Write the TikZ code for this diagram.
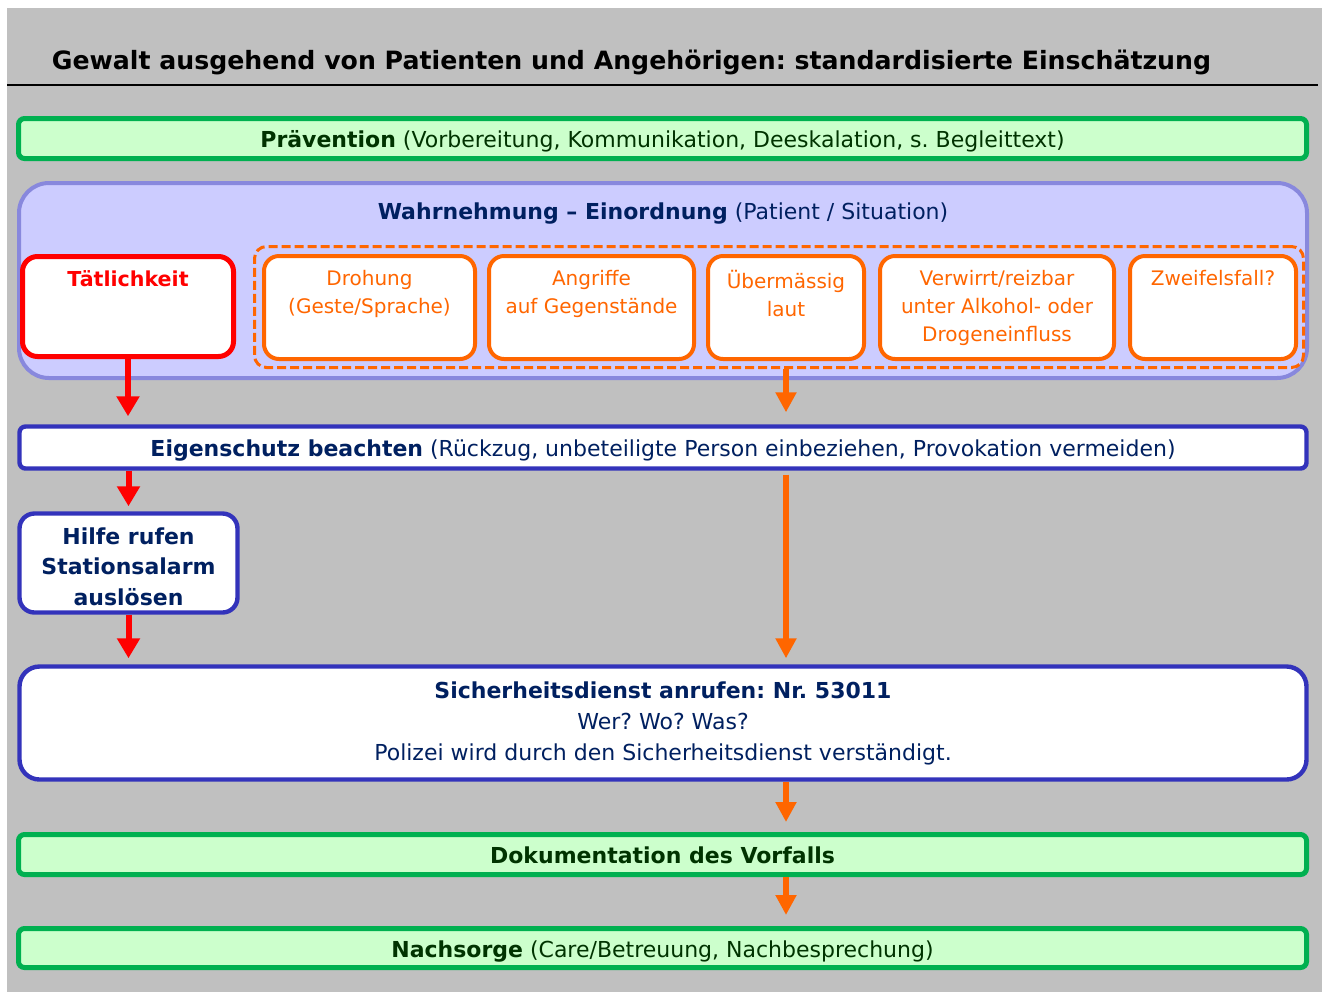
\documentclass[tikz,border=0pt]{standalone}
\usepackage{fontspec}
\setmainfont{DejaVu Sans}
\usepackage{tikz}
\usetikzlibrary{arrows.meta}
\frenchspacing

\definecolor{bggray}{HTML}{C0C0C0}
\definecolor{navy}{HTML}{002060}
\definecolor{darkgreen}{HTML}{003300}
\definecolor{boxgreen}{HTML}{00B050}
\definecolor{lightgreen}{HTML}{CCFFCC}
\definecolor{lilac}{HTML}{CCCCFF}
\definecolor{lilacline}{HTML}{8888DD}
\definecolor{boxblue}{HTML}{3333BB}
\definecolor{alarmorange}{HTML}{FF6600}
\definecolor{alarmred}{HTML}{FF0000}

\newcommand\boxfont{\fontsize{11}{14}\selectfont}
\newcommand\smallboxfont{\fontsize{10}{14}\selectfont}

\tikzset{
  greenbox/.style={draw=boxgreen, line width=2.5pt, fill=lightgreen, rounded corners=3pt,
    minimum width=644pt, minimum height=20pt, inner sep=0pt, text height=9pt, text depth=0pt,
    font=\boxfont, text=darkgreen},
  bluebox/.style={draw=boxblue, line width=2.2pt, fill=white, inner sep=0pt,
    font=\boxfont, text=navy},
  orangebox/.style={draw=alarmorange, line width=2pt, fill=white, rounded corners=7.5pt,
    minimum height=51.5pt, inner sep=0pt},
  orangelabel/.style={anchor=north, yshift=-6pt, inner sep=2pt, align=center,
    font=\smallboxfont, text=alarmorange},
  redlabel/.style={anchor=north, yshift=-6pt, inner sep=2pt,
    font=\fontsize{10.3}{14}\selectfont\bfseries, text=alarmred},
  redarrow/.style={draw=alarmred, line width=3pt, -{Triangle[width=11pt, length=10pt]}},
  orangearrow/.style={draw=alarmorange, line width=3pt, -{Triangle[width=10pt, length=10pt]}},
}

\begin{document}
\begin{tikzpicture}[x=0.5pt, y=-0.5pt]

  \useasboundingbox (0,0) rectangle (1322,992);
  \fill[bggray] (7,8) rectangle (1322,992);

  \node[anchor=base, font=\fontsize{12.6}{15}\selectfont\bfseries] (title) at (631.5,69)
    {Gewalt ausgehend von Patienten und Angehörigen: standardisierte Einschätzung};
  \draw[line width=1pt] (7,85) -- (1318,85);

  \node[greenbox] (praev) at (662.5,138.5)
    {\textbf{Prävention} (Vorbereitung, Kommunikation, Deeskalation, s. Begleittext)};

  % Wahrnehmung
  \node[draw=lilacline, line width=2pt, fill=lilac, rounded corners=15pt,
    minimum width=644pt, minimum height=97.5pt] (wahr) at (663,280.5) {};
  \node[anchor=base, font=\boxfont, text=navy] (wahrtitle) at (663,219)
    {\textbf{Wahrnehmung – Einordnung} (Patient / Situation)};

  \node[draw=alarmorange, line width=1.5pt, dash pattern=on 4.5pt off 2pt, rounded corners=6pt,
    minimum width=524.5pt, minimum height=60.5pt] (group) at (779,307) {};

  \node[draw=alarmred, line width=2.5pt, fill=white, rounded corners=7.5pt,
    minimum width=105.5pt, minimum height=50pt, label={[redlabel]north:Tätlichkeit}] (taet) at (128,306.5) {};

  \foreach \name/\x/\w/\txt in {droh/369.5/105.5/{Drohung\\(Geste/Sprache)},
      angr/591.5/102.5/{Angriffe\\auf Gegenstände},
      ueber/786/78/{Übermässig\\laut},
      verw/997/117/{Verwirrt/reizbar\\unter Alkohol- oder\\Drogeneinfluss},
      zweif/1213/83/{Zweifelsfall?}} {
    \node[orangebox, minimum width=\w pt, label={[orangelabel]north:\txt}] (\name) at (\x,307.5) {};
  }

  % Reaktion
  \node[bluebox, rounded corners=3pt, minimum width=643.5pt, minimum height=21pt,
    text height=9pt, text depth=0pt] (eigen) at (663,447.5)
    {\textbf{Eigenschutz beachten} (Rückzug, unbeteiligte Person einbeziehen, Provokation vermeiden)};

  \node[bluebox, align=center, rounded corners=7.5pt, minimum width=109pt, minimum height=49.5pt,
    font=\fontsize{11}{15.2}\selectfont\bfseries] (hilfe) at (128.5,563)
    {\rule{0pt}{12pt}Hilfe rufen\\Stationsalarm\\auslösen};

  \node[bluebox, align=center, rounded corners=10pt, minimum width=643.5pt, minimum height=56.5pt,
    font=\fontsize{11}{15.5}\selectfont] (sicher) at (663,723)
    {\textbf{Sicherheitsdienst anrufen: Nr. 53011}\\Wer? Wo? Was?\\Polizei wird durch den Sicherheitsdienst verständigt.};

  \node[greenbox] (doku) at (662.5,854.5) {\textbf{Dokumentation des Vorfalls}};
  \node[greenbox, minimum height=19.5pt] (nach) at (662.5,948)
    {\textbf{Nachsorge} (Care/Betreuung, Nachbesprechung)};

  % Pfeile
  \draw[redarrow, shorten >=4pt] (taet.south) -- (taet.south |- eigen.north);
  \draw[redarrow, shorten >=2.5pt] (hilfe.north |- eigen.south) -- (hilfe.north);
  \draw[redarrow, shorten >=3pt] (hilfe.south) -- (hilfe.south |- sicher.north);

  \draw[orangearrow, shorten >=6pt] (ueber.south |- group.south) -- (ueber.south |- eigen.north);
  \draw[orangearrow, shorten <=2pt, shorten >=3pt] (ueber.south |- eigen.south) -- (ueber.south |- sicher.north);
  \draw[orangearrow, shorten >=5pt] (ueber.south |- sicher.south) -- (ueber.south |- doku.north);
  \draw[orangearrow, shorten >=5.5pt] (ueber.south |- doku.south) -- (ueber.south |- nach.north);

\end{tikzpicture}
\end{document}
